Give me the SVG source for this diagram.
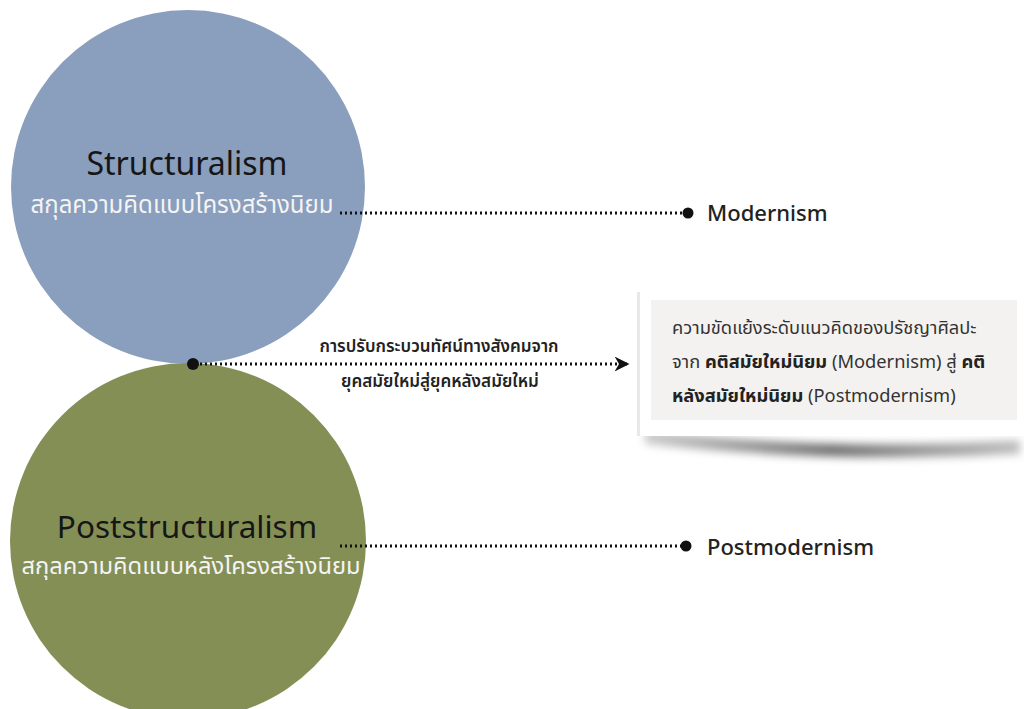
<svg xmlns="http://www.w3.org/2000/svg" width="1024" height="709" viewBox="0 0 1024 709">
  <style>
    .title { font-family: "Noto Sans", "Open Sans", sans-serif; font-size: 32px; fill: #161616; text-anchor: middle; }
    .sub { font-family: "Noto Sans", "Noto Sans Thai", "DejaVu Sans", sans-serif; font-size: 24px; fill: #f4f4f4; text-anchor: middle; }
    .term { font-family: "Noto Sans", "Open Sans", sans-serif; font-size: 22px; fill: #222; font-weight: 500; }
    .dots { stroke: #111; stroke-width: 3; stroke-dasharray: 2 3; fill: none; }
    .mid { font-family: "Noto Sans", "Noto Sans Thai", sans-serif; font-size: 17px; font-weight: 600; fill: #222; text-anchor: middle; }
    .note { font-family: "Noto Sans", "Noto Sans Thai", sans-serif; font-size: 18.3px; fill: #333; }
    .b { font-weight: bold; fill: #222; }
  </style>
  <defs>
    <marker id="arrow" viewBox="0 0 10 10" refX="9" refY="5" markerWidth="5" markerHeight="5" orient="auto" markerUnits="strokeWidth">
      <path d="M0,0 L10,5 L0,10 L3,5 Z" fill="#111"/>
    </marker>
    <filter id="soft" x="-10%" y="-50%" width="120%" height="200%">
      <feGaussianBlur stdDeviation="4"/>
    </filter>
    <linearGradient id="shadowFade" x1="0" y1="0" x2="1" y2="0">
      <stop offset="0" stop-color="#000" stop-opacity="0.2"/>
      <stop offset="0.5" stop-color="#000" stop-opacity="0.55"/>
      <stop offset="1" stop-color="#000" stop-opacity="0.25"/>
    </linearGradient>
  </defs>

  <rect width="1024" height="709" fill="#ffffff"/>

  <g id="structuralism">
    <circle cx="188" cy="187" r="177" fill="#8a9ebd"/>
    <text class="title" x="187" y="175">Structuralism</text>
    <text class="sub" x="182" y="213">สกุลความคิดแบบโครงสร้างนิยม</text>
  </g>

  <g id="poststructuralism">
    <circle cx="188" cy="541" r="178" fill="#848f55"/>
    <text class="title" x="187" y="538" style="font-size:31.5px">Poststructuralism</text>
    <text class="sub" x="191" y="574" style="font-size:23.7px">สกุลความคิดแบบหลังโครงสร้างนิยม</text>
  </g>

  <g id="modernism">
    <text class="term" x="707" y="221">Modernism</text>
  </g>

  <g id="postmodernism">
    <text class="term" x="707" y="555">Postmodernism</text>
  </g>

  <g id="note">
    <path d="M645,430 Q830,452 1020,440 L1020,454 Q830,464 645,444 Z" fill="url(#shadowFade)" filter="url(#soft)"/>
    <rect x="637" y="290" width="387" height="146" fill="#ffffff"/>
    <rect x="637" y="292" width="3" height="144" fill="#e8e8e8"/>
    <rect x="651" y="300" width="366" height="120" fill="#f3f2f0"/>
    <text class="note" x="672" y="334">ความขัดแย้งระดับแนวคิดของปรัชญาศิลปะ</text>
    <text class="note" x="672" y="368">จาก <tspan class="b">คติสมัยใหม่นิยม</tspan> (Modernism) สู่ <tspan class="b">คติ</tspan></text>
    <text class="note" x="672" y="402"><tspan class="b">หลังสมัยใหม่นิยม</tspan> (Postmodernism)</text>
  </g>

  <g id="connectors">
    <line class="dots" x1="340" y1="213" x2="686" y2="213"/>
    <circle cx="688" cy="213" r="5.5" fill="#111"/>
    <line class="dots" x1="340" y1="546" x2="684" y2="546"/>
    <circle cx="686" cy="546" r="5.5" fill="#111"/>
    <circle cx="193" cy="364" r="6" fill="#111"/>
    <line class="dots" x1="200" y1="364" x2="628" y2="364" marker-end="url(#arrow)"/>
    <text class="mid" x="439" y="352">การปรับกระบวนทัศน์ทางสังคมจาก</text>
    <text class="mid" x="440" y="387">ยุคสมัยใหม่สู่ยุคหลังสมัยใหม่</text>
  </g>
</svg>
